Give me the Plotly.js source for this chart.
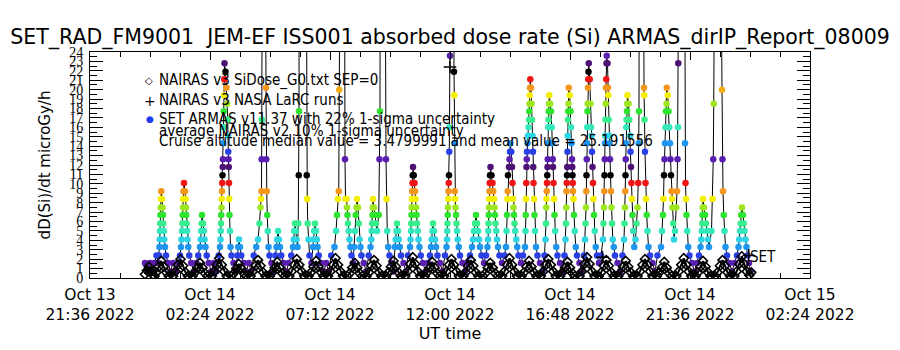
<!DOCTYPE html>
<html><head><meta charset="utf-8">
<script src="https://cdn.plot.ly/plotly-3.0.1.min.js"></script>
<style>html,body{margin:0;padding:0;background:#fff}#chart{width:900px;height:350px}</style>
</head><body><div id="chart"></div>
<script>
// ---------- DATA (hours after Oct 13 2022 21:36 UT) ----------
const armasHour = [
2.20,2.30,2.40,2.50,2.58,2.66,2.72,
2.76,2.78,2.79,2.80,2.81,2.82,2.83,2.84,2.85,
2.88,2.90,2.92,2.93,2.95,2.97,3.00,3.04,
3.12,3.22,3.32,3.42,3.52,3.60,
3.64,3.66,3.68,3.70,3.71,3.72,3.73,3.74,3.76,
3.80,3.82,3.84,3.85,3.86,3.88,3.90,3.93,3.97,
4.05,4.15,4.25,4.33,
4.40,4.43,4.45,4.47,4.48,4.52,4.55,4.58,4.62,4.67,
4.75,4.85,4.95,5.05,5.15,
5.20,5.22,5.23,5.24,5.25,5.26,5.27,5.28,5.29,5.30,5.31,5.32,5.33,5.34,5.35,5.36,5.37,5.38,
5.42,5.46,5.49,5.51,5.52,5.53,5.54,5.55,5.56,5.57,5.58,5.60,5.62,5.66,
5.74,5.82,5.90,5.93,5.96,6.00,6.05,
6.15,6.25,6.35,6.45,6.55,6.65,
6.72,6.78,6.82,6.84,6.86,6.865,6.87,6.875,6.90,6.95,7.00,7.04,7.05,7.07,7.09,7.11,7.14,7.18,
7.26,7.34,7.42,7.46,7.49,7.52,7.56,7.60,7.65,
7.75,7.85,7.95,8.05,
8.12,8.15,8.17,8.20,8.23,8.26,8.30,
8.33,8.35,8.36,8.37,8.45,8.55,8.66,8.67,8.69,8.71,8.74,8.78,
8.86,8.92,8.95,8.97,9.00,9.04,9.07,9.10,9.15,
9.25,9.35,9.45,9.55,9.65,
9.78,9.84,9.88,9.92,9.95,9.97,9.99,10.08,10.18,10.20,10.22,
10.26,10.28,10.30,10.32,10.35,10.38,10.42,10.46,10.52,
10.56,10.60,10.63,10.66,10.68,10.72,10.75,10.78,10.82,10.86,
10.95,11.05,11.15,
11.22,11.25,11.27,11.29,11.30,11.31,11.32,11.36,11.40,11.44,11.48,
11.55,11.58,11.60,11.61,11.70,11.80,11.84,11.86,11.89,11.93,11.98,
12.06,12.14,12.20,12.23,12.26,12.28,12.32,12.35,12.39,12.44,
12.54,12.64,12.72,
12.80,12.82,12.84,12.85,12.86,12.87,12.88,12.89,12.90,12.91,12.92,
12.95,12.98,13.00,13.02,13.04,13.06,13.08,13.11,13.14,13.18,13.23,
13.32,13.42,13.52,13.60,
13.64,13.67,13.70,13.72,13.76,13.80,13.84,13.90,
14.00,14.10,14.20,
14.26,14.28,14.29,14.30,14.31,14.32,14.33,14.34,14.35,14.36,14.37,14.38,14.40,14.42,14.50,14.54,
14.56,14.57,14.58,14.59,14.60,14.62,14.64,14.66,14.68,14.71,14.75,14.80,
14.90,15.00,15.10,15.20,15.28,
15.32,15.36,15.40,15.44,15.48,15.52,15.56,15.60,15.66,
15.76,15.84,
15.90,15.92,15.93,15.94,15.95,15.96,15.97,15.98,15.99,16.00,16.02,
16.06,16.10,16.13,16.16,16.18,16.20,16.22,16.25,16.28,16.32,16.38,
16.48,16.58,
16.64,16.66,16.68,16.70,16.71,16.72,16.76,16.78,16.80,16.81,
16.85,16.88,16.90,16.92,16.94,16.96,16.98,17.01,17.05,17.09,17.14,
17.24,17.32,
17.40,17.42,17.43,17.44,17.45,17.46,17.47,17.48,17.50,17.52,17.54,17.56,17.57,17.58,17.59,17.60,17.61,
17.64,17.66,17.68,17.70,17.72,17.73,17.74,17.76,17.78,17.80,17.84,17.90,
18.00,18.10,18.18,
18.22,18.24,18.25,18.26,18.27,18.28,18.29,18.30,18.31,18.32,18.33,18.34,18.35,18.36,18.37,
18.41,18.44,18.47,18.49,18.51,18.52,18.54,18.56,18.58,18.61,18.65,18.70,
18.80,18.90,18.98,
19.02,19.04,19.05,19.06,19.07,19.08,19.09,19.10,19.11,19.12,19.13,19.14,19.15,
19.19,19.22,19.24,19.26,19.28,19.29,19.30,19.31,19.32,19.34,19.36,19.39,19.43,19.48,
19.58,19.68,19.76,
19.80,19.82,19.84,19.85,19.86,19.87,19.88,19.89,19.90,19.91,19.92,19.93,19.94,19.95,
19.99,20.02,20.04,20.06,20.08,20.10,20.12,20.14,20.16,20.19,20.23,20.28,
20.36,20.44,
20.52,20.54,20.56,20.57,20.58,20.59,20.60,20.61,20.62,20.63,20.64,20.65,20.66,20.67,
20.70,20.72,20.73,20.75,20.77,20.78,20.80,20.82,20.84,20.86,20.88,20.91,20.95,21.00,
21.10,21.20,21.30,
21.36,21.38,21.40,21.41,21.42,21.43,21.44,21.45,21.46,21.48,21.49,21.50,
21.54,21.57,21.60,21.62,21.64,21.66,21.68,21.70,21.73,21.77,
21.82,21.86,21.90,21.93,21.95,21.96,21.97,22.05,22.14,22.16,
22.17,22.18,22.20,22.22,22.24,22.27,22.30,22.34,22.40,
22.50,22.60,22.70,
22.84,22.88,22.92,22.94,22.96,22.98,23.00,23.02,23.04,23.06,23.07,
23.11,23.14,23.17,23.20,23.22,23.24,23.26,23.28,23.30,23.33,23.36,
23.40,23.45,23.48,23.50,23.52,23.53,23.54,23.65,23.78,
23.80,23.82,23.84,23.86,23.89,23.93,23.98,
24.08,24.18,24.28,24.36,
24.42,24.45,24.47,24.49,24.50,24.51,24.52,24.56,24.60,24.64,24.68,24.72,24.76,
24.86,24.90,24.93,24.95,24.96,25.05,25.20,25.28,
25.30,25.32,25.35,25.38,25.42,25.48,
25.58,25.68,25.78,25.88,
25.94,25.97,26.00,26.03,26.05,26.08,26.12,26.15,26.18,26.22,26.26,26.30,26.36,26.42
];
const armasDose = [
1.6,0.7,1.6,0.7,1.6,2.4,1.6,
2.4,3.3,4.1,5.0,5.8,6.7,7.5,8.4,9.2,
8.4,7.5,6.7,5.8,5.0,4.1,3.3,2.4,
1.6,0.7,1.6,0.7,1.6,2.4,
3.3,4.1,5.0,5.8,6.7,7.5,8.4,9.2,10.1,
9.2,8.4,7.5,6.7,5.8,5.0,4.1,3.3,2.4,
1.6,0.7,1.6,2.4,
3.3,4.1,5.0,5.8,6.7,5.8,5.0,4.1,3.3,2.4,
1.6,0.7,1.6,0.7,2.4,
3.3,4.1,5.0,5.8,6.7,7.5,8.4,9.2,10.1,10.9,11.8,12.6,14.3,16.0,17.7,19.4,21.1,22.8,
21.9,20.2,18.5,16.8,15.1,13.4,12.6,11.8,10.1,8.4,6.7,5.0,3.3,2.4,
1.6,0.7,2.4,3.3,4.1,3.3,2.4,
1.6,0.7,1.6,0.7,2.4,3.3,
4.1,5.8,7.5,8.4,9.2,12.6,16.8,30,60,80,50,20.2,12.6,9.2,6.7,5.0,3.3,2.4,
1.6,0.7,2.4,3.3,4.1,5.0,4.1,3.3,2.4,
1.6,0.7,1.6,2.4,
3.3,4.1,5.0,5.8,5.0,4.1,3.3,
5.8,10.9,17.7,40,70,60,30,10.9,8.4,5.8,4.1,2.4,
1.6,3.3,4.1,5.0,5.8,5.0,4.1,3.3,2.4,
1.6,0.7,1.6,0.7,2.4,
3.3,5.0,6.7,8.4,9.2,20,50,70,40,12.6,8.4,
8.4,7.5,6.7,5.8,5.0,4.1,3.3,2.4,1.6,
3.3,5.0,6.7,7.5,8.4,7.5,5.8,4.1,3.3,2.4,
1.6,0.7,2.4,
3.3,4.1,5.0,5.8,6.7,7.5,8.4,7.5,6.7,5.8,5.0,
6.7,12.6,17.7,40,70,40,12.6,8.4,5.0,3.3,2.4,
1.6,0.7,3.3,4.1,5.0,5.8,5.0,4.1,3.3,2.4,
1.6,0.7,2.4,
3.3,4.1,5.0,5.8,6.7,7.5,8.4,9.2,10.1,10.9,11.8,
10.9,10.1,9.2,8.4,7.5,6.7,5.8,5.0,4.1,3.3,2.4,
1.6,0.7,1.6,2.4,
3.3,4.1,5.0,5.8,5.0,4.1,3.3,2.4,
1.6,0.7,2.4,
3.3,4.1,5.0,5.8,6.7,7.5,8.4,9.2,10.1,10.9,13.4,16.0,23.6,50,80,40,
21.9,19.4,14.3,9.2,8.4,7.5,6.7,5.8,5.0,4.1,3.3,2.4,
1.6,0.7,1.6,2.4,3.3,
4.1,5.0,5.8,6.7,5.8,5.0,4.1,3.3,2.4,
1.6,2.4,
3.3,4.1,5.0,5.8,6.7,7.5,8.4,9.2,10.1,10.9,11.8,
10.9,10.1,9.2,8.4,7.5,6.7,5.8,5.0,4.1,3.3,2.4,
1.6,2.4,
3.3,5.0,6.7,8.4,9.2,10.9,11.8,12.6,13.4,14.3,
13.4,11.8,10.1,8.4,7.5,6.7,5.8,5.0,4.1,3.3,2.4,
1.6,2.4,
3.3,5.0,6.7,8.4,10.1,11.8,12.6,13.4,14.3,15.1,16.0,16.8,17.7,18.5,19.4,20.2,21.1,
20.2,18.5,16.8,15.1,13.4,11.8,10.1,8.4,6.7,5.0,3.3,2.4,
1.6,0.7,2.4,
4.1,5.8,7.5,8.4,9.2,10.1,10.9,11.8,12.6,14.3,16.0,16.8,17.7,18.5,19.4,
18.5,17.7,16.0,14.3,12.6,11.8,10.1,8.4,6.7,5.0,3.3,2.4,
1.6,0.7,2.4,
4.1,5.8,7.5,9.2,10.1,10.9,11.8,13.4,15.1,16.8,17.7,18.5,20.2,
19.4,17.7,16.0,14.3,12.6,11.8,10.9,10.1,9.2,8.4,6.7,5.0,3.3,2.4,
1.6,0.7,2.4,
4.1,5.8,7.5,9.2,10.9,12.6,14.3,16.0,17.7,18.5,20.2,21.1,21.9,22.8,
21.1,18.5,16.0,15.1,13.4,11.8,10.1,8.4,6.7,5.0,3.3,2.4,
1.6,2.4,
4.1,5.8,7.5,9.2,10.9,12.6,14.3,15.1,16.8,18.5,20.2,21.1,22.8,23.6,
22.8,20.2,19.4,16.8,15.1,14.3,12.6,10.9,9.2,7.5,5.8,4.1,3.3,2.4,
1.6,0.7,2.4,
4.1,5.8,7.5,9.2,10.9,12.6,14.3,16.0,16.8,17.7,18.5,19.4,
18.5,16.8,15.1,13.4,11.8,10.1,8.4,6.7,5.0,3.3,
4.1,5.8,7.5,10.1,14.3,17.7,40,80,40,20.2,
19.4,16.8,13.4,10.1,8.4,6.7,5.0,3.3,2.4,
1.6,0.7,2.4,
3.3,5.0,6.7,8.4,10.9,12.6,14.3,16.0,17.7,18.5,20.2,
19.4,17.7,16.0,14.3,12.6,10.9,9.2,8.4,7.5,5.8,4.1,
5.0,7.5,9.2,12.6,16.0,22.8,40,80,40,
14.3,10.1,8.4,6.7,5.0,3.3,2.4,
1.6,0.7,1.6,2.4,
3.3,4.1,5.0,5.8,6.7,7.5,8.4,7.5,6.7,5.8,5.0,4.1,3.3,
5.0,8.4,12.6,18.5,30,70,50,20,
12.6,9.2,6.7,5.0,3.3,2.4,
1.6,0.7,1.6,2.4,
3.3,4.1,5.0,5.8,6.7,7.5,6.7,5.8,5.0,4.1,3.3,2.4,1.6,0.7
];
const nairasHour = [
2.20,2.28,2.35,2.45,2.52,
2.58,2.65,2.75,2.85,2.95,3.05,3.15,
3.32,3.42,3.52,3.62,3.72,3.82,3.92,
4.10,4.20,4.30,4.40,4.50,4.60,4.70,
4.87,4.97,5.07,5.17,5.27,5.37,5.47,
5.65,5.75,5.85,5.95,6.05,6.15,6.25,
6.42,6.52,6.62,6.72,6.82,6.92,7.02,
7.19,7.29,7.39,7.49,7.59,7.69,7.79,
7.97,8.07,8.17,8.27,8.37,8.47,8.57,
8.74,8.84,8.94,9.04,9.14,9.24,9.34,
9.52,9.62,9.72,9.82,9.92,10.02,10.12,
10.29,10.39,10.49,10.59,10.69,10.79,10.89,
11.06,11.16,11.26,11.36,11.46,11.56,11.66,
11.84,11.94,12.04,12.14,12.24,12.34,12.44,
12.61,12.71,12.81,12.91,13.01,13.11,13.21,
13.39,13.49,13.59,13.69,13.79,13.89,13.99,
14.16,14.26,14.36,14.46,14.56,14.66,14.76,
14.93,15.03,15.13,15.23,15.33,15.43,15.53,
15.71,15.81,15.91,16.01,16.11,16.21,16.31,
16.48,16.58,16.68,16.78,16.88,16.98,17.08,
17.26,17.36,17.46,17.56,17.66,17.76,17.86,
18.03,18.13,18.23,18.33,18.43,18.53,18.63,
18.80,18.90,19.00,19.10,19.20,19.30,19.40,
19.58,19.68,19.78,19.88,19.98,20.08,20.18,
20.35,20.45,20.55,20.65,20.75,20.85,20.95,
21.13,21.23,21.33,21.43,21.53,21.63,21.73,
21.90,22.00,22.10,22.20,22.30,22.40,22.50,
22.67,22.77,22.87,22.97,23.07,23.17,23.27,
23.45,23.55,23.65,23.75,23.85,23.95,24.05,
24.22,24.32,24.42,24.52,24.62,24.72,24.82,
25.00,25.10,25.20,25.30,25.40,25.50,25.60,
25.77,25.87,25.97,26.07,26.17,26.27,26.37,26.45
];
const nairasDose = [
0.4,0.8,1.2,0.7,0.3,
0.2,0.6,1.2,1.8,1.2,0.6,0.2,
0.2,0.7,1.4,2.0,1.3,0.6,0.2,
0.2,0.6,1.1,1.6,1.1,0.5,0.2,
0.2,0.7,1.4,2.1,1.4,0.7,0.2,
0.2,0.5,1.0,1.5,1.0,0.5,0.2,
0.2,0.7,1.3,1.9,1.3,0.6,0.2,
0.2,0.6,1.1,1.7,1.1,0.5,0.2,
0.2,0.7,1.4,2.0,1.4,0.7,0.2,
0.2,0.6,1.2,1.8,1.2,0.6,0.2,
0.2,0.7,1.4,2.1,1.4,0.7,0.2,
0.2,0.5,1.1,1.6,1.1,0.5,0.2,
0.2,0.6,1.3,1.9,1.3,0.6,0.2,
0.2,0.6,1.2,1.8,1.2,0.6,0.2,
0.2,0.7,1.5,2.2,1.5,0.7,0.2,
0.2,0.6,1.1,1.7,1.1,0.5,0.2,
0.2,0.7,1.4,2.0,1.4,0.7,0.2,
0.2,0.6,1.3,1.9,1.3,0.6,0.2,
0.2,0.5,1.1,1.6,1.1,0.5,0.2,
0.2,0.7,1.4,2.1,1.4,0.7,0.2,
0.2,0.6,1.2,1.8,1.2,0.6,0.2,
0.2,0.7,1.4,2.0,1.4,0.7,0.2,
0.2,0.6,1.1,1.7,1.1,0.5,0.2,
0.2,0.7,1.5,2.2,1.5,0.7,0.2,
0.2,0.6,1.3,1.9,1.3,0.6,0.2,
0.2,0.6,1.2,1.8,1.2,0.6,0.2,
0.2,0.7,1.4,2.0,1.4,0.7,0.2,
0.2,0.6,1.1,1.7,1.1,0.5,0.2,
0.2,0.7,1.4,2.1,1.4,0.7,0.2,
0.2,0.6,1.2,1.8,1.2,0.6,0.2,
0.2,0.6,1.3,1.9,1.3,0.6,0.2,
0.2,0.7,1.5,2.3,1.5,0.7,0.3,0.6
];
const larcHour = [14.40, 20.50, 26.35];
const larcDose = [22.4, 2.2, 2.4];

const xTickHours = [0, 4.8, 9.6, 14.4, 19.2, 24.0, 28.8];
const xTickText = ['Oct 13<br>21:36 2022','Oct 14<br>02:24 2022','Oct 14<br>07:12 2022',
                   'Oct 14<br>12:00 2022','Oct 14<br>16:48 2022','Oct 14<br>21:36 2022','Oct 15<br>02:24 2022'];
const xMinorHours = [1.2,2.4,3.6,6.0,7.2,8.4,10.8,12.0,13.2,15.6,16.8,18.0,20.4,21.6,22.8,25.2,26.4,27.6];

// colour table of the ARMAS dots: one cycle of 11 uGy/h, repeated
const cycleLevels = [0, 0.7, 1.6, 2.4, 3.3, 4.1, 5.0, 5.8, 6.7, 7.5, 8.4, 9.2, 10.1, 10.9];
const cycleColors = ['#3a0a58','#4c1070','#5a1eb0','#2a40e6','#1e96f0','#2ed4e4','#34e8bc','#38ee8c',
                     '#2ee42e','#9ee620','#f4ee00','#f4961c','#f01414','#000000'];

if (armasHour.length !== armasDose.length || nairasHour.length !== nairasDose.length) {
  console.error('length mismatch', armasHour.length, armasDose.length, nairasHour.length, nairasDose.length);
}

const CYC = 11, NCYC = 3;
const cscale = [];
for (let p = 0; p < NCYC; p++) {
  cycleLevels.forEach((v, i) => cscale.push([(v + p * CYC) / (CYC * NCYC), cycleColors[i]]));
}
cscale.push([1, '#000000']);

const BASE = 'DejaVu Sans';
const COND = 'DejaVu Sans Condensed';

const traces = [
  {
    x: armasHour, y: armasDose, type: 'scatter', mode: 'lines+markers',
    line: {color: '#000', width: 1},
    marker: {symbol: 'circle', size: 6.5, color: armasDose, colorscale: cscale,
             cmin: 0, cmax: CYC * NCYC, line: {width: 0}},
    hoverinfo: 'skip', showlegend: false
  },
  {
    x: nairasHour, y: nairasDose, type: 'scatter', mode: 'lines+markers',
    line: {color: '#000', width: 2},
    marker: {symbol: 'diamond-open', size: 7, color: '#000', line: {width: 1.6}},
    hoverinfo: 'skip', showlegend: false
  },
  {
    x: larcHour, y: larcDose, type: 'scatter', mode: 'markers',
    marker: {symbol: 'cross-thin-open', size: 9, color: '#000', line: {width: 1.5, color: '#000'}},
    hoverinfo: 'skip', showlegend: false
  }
];

// plot box pixels: x 90..810, y 52..278
const px = v => (v - 90) / 720, py = v => (278 - v) / 226;
const ann = (x, y, text, opt) => Object.assign({xref: 'paper', yref: 'paper', x: px(x), y: py(y),
  xanchor: 'left', yanchor: 'middle', showarrow: false, text: text,
  font: {family: COND, size: 15, color: '#000'}}, opt || {});

const layout = {
  width: 900, height: 350,
  margin: {l: 90, r: 90, t: 52, b: 72},
  paper_bgcolor: '#fff', plot_bgcolor: '#fff',
  showlegend: false,
  title: {text: 'SET_RAD_FM9001  JEM-EF ISS001 absorbed dose rate (Si) ARMAS_dirIP_Report_08009',
          font: {family: BASE, size: 20.5, color: '#000'},
          x: 0.5, xanchor: 'center', xref: 'paper', y: 1 - 37 / 350, yanchor: 'middle', yref: 'container'},
  xaxis: {
    range: [0, 28.8], tickmode: 'array', tickvals: xTickHours, ticktext: xTickText,
    ticks: 'inside', ticklen: 8, tickcolor: '#000', tickwidth: 1,
    minor: {tickmode: 'array', tickvals: xMinorHours, ticks: 'inside', ticklen: 5, tickcolor: '#000'},
    showline: true, linecolor: '#000', linewidth: 1, mirror: 'ticks',
    showgrid: false, zeroline: false,
    tickfont: {family: BASE, size: 15.5, color: '#000'}, ticklabelstandoff: 2,
    title: {text: 'UT time', font: {family: BASE, size: 16, color: '#000'}, standoff: 2},
    automargin: false
  },
  yaxis: {
    range: [0, 24], tickmode: 'linear', tick0: 0, dtick: 1,
    ticks: 'inside', ticklen: 13, tickcolor: '#000', tickwidth: 1,
    minor: {dtick: 0.5, ticks: 'inside', ticklen: 7, tickcolor: '#000'},
    showline: true, linecolor: '#000', linewidth: 1, mirror: 'ticks',
    showgrid: false, zeroline: false,
    tickfont: {family: 'Liberation Sans Narrow', size: 14, color: '#000'}, ticklabelstandoff: 3,
    title: {text: 'dD(Si)/dt microGy/h', font: {family: BASE, size: 15, color: '#000'}, standoff: 14},
    automargin: false
  },
  annotations: [
    ann(149, 80, '◇', {xanchor: 'center', font: {family: BASE, size: 10, color: '#000'}}),
    ann(157, 80, 'NAIRAS v3 SiDose_G0.txt SEP=0'),
    ann(150, 101, '+', {xanchor: 'center', font: {family: BASE, size: 14, color: '#000'}}),
    ann(157, 100, 'NAIRAS v3 NASA LaRC runs'),
    ann(150, 119, '●', {xanchor: 'center', font: {family: BASE, size: 9, color: '#1e3cf0'}}),
    ann(157, 119, 'SET ARMAS v11.37 with 22% 1-sigma uncertainty'),
    ann(157, 131, 'average NAIRAS v2 10% 1-sigma uncertainty'),
    ann(157, 141, 'Cruise altitude median value = 3.4799991 and mean value = 25.191556'),
    ann(748, 257, 'SET')
  ]
};

Plotly.newPlot('chart', traces, layout, {staticPlot: true, displayModeBar: false});
</script>
</body></html>
